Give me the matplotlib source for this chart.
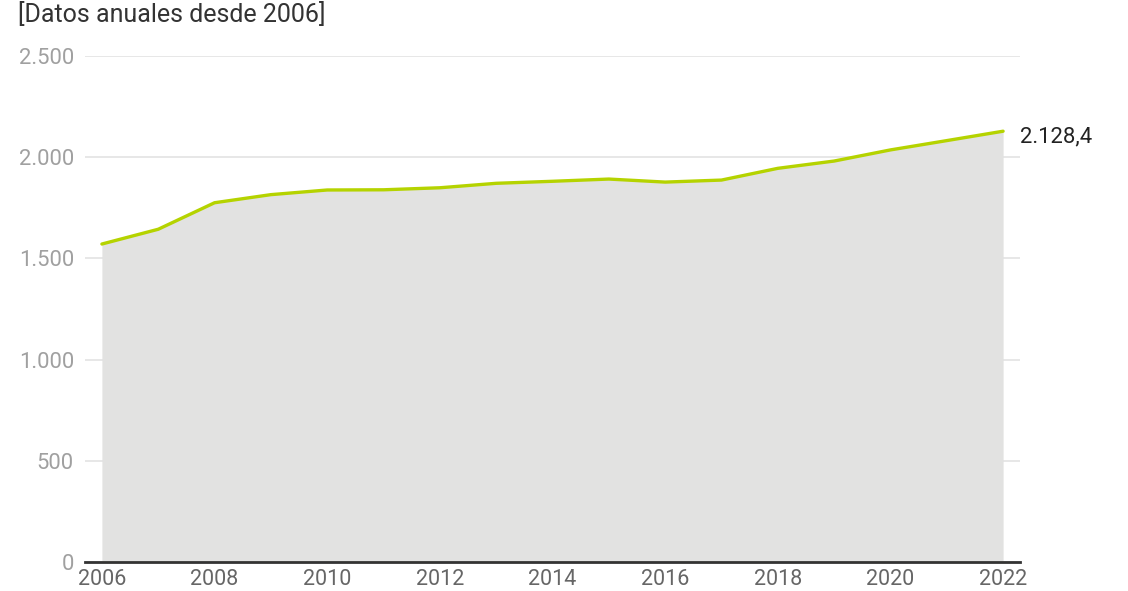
import matplotlib.pyplot as plt

plt.rcParams['font.family'] = ['Roboto', 'DejaVu Sans']

years = list(range(2006, 2023))
values = [1571, 1644, 1775, 1815, 1838, 1839, 1849, 1871, 1881,
          1892, 1877, 1887, 1945, 1981, 2036, 2082, 2128.4]
y_ticks = [0, 500, 1000, 1500, 2000, 2500]
y_labels = ['0', '500', '1.000', '1.500', '2.000', '2.500']
x_ticks = list(range(2006, 2023, 2))
title = '[Datos anuales desde 2006]'
end_label = '2.128,4'

fig = plt.figure(figsize=(11.28, 5.91), dpi=100)
ax = fig.add_axes([85 / 1128, 29 / 591, 935 / 1128, 506 / 591])

ax.fill_between(years, values, 0, color='#e2e2e1', lw=0, zorder=1)
ax.plot(years, values, color='#b5d300', lw=2.4, solid_capstyle='round', zorder=3)

ax.set_xlim(2005.7, 2022.3)
ax.set_ylim(0, 2500)
ax.set_yticks(y_ticks)
ax.set_yticklabels(y_labels)
ax.set_xticks(x_ticks)
ax.set_xticklabels([str(x) for x in x_ticks])

ax.grid(axis='y', color='#e3e3e3', lw=1.2, zorder=0)
ax.set_axisbelow(True)
for s in ['top', 'right', 'left']:
    ax.spines[s].set_visible(False)
ax.spines['bottom'].set_color('#333333')
ax.spines['bottom'].set_linewidth(2)
ax.spines['bottom'].set_zorder(4)

ax.tick_params(axis='y', length=0, pad=8, labelsize=15.8, labelcolor='#a0a0a0')
ax.tick_params(axis='x', length=0, pad=5, labelsize=15.5, labelcolor='#666666')

ax.annotate(end_label, xy=(years[-1], values[-1]), xytext=(12, -4),
            textcoords='offset points', ha='left', va='center',
            fontsize=15.8, color='#222222')

fig.text(18 / 1128, 1 - 14 / 591, title, ha='left', va='center',
         fontsize=18, color='#333333')

fig.savefig('out.png', dpi=100)
